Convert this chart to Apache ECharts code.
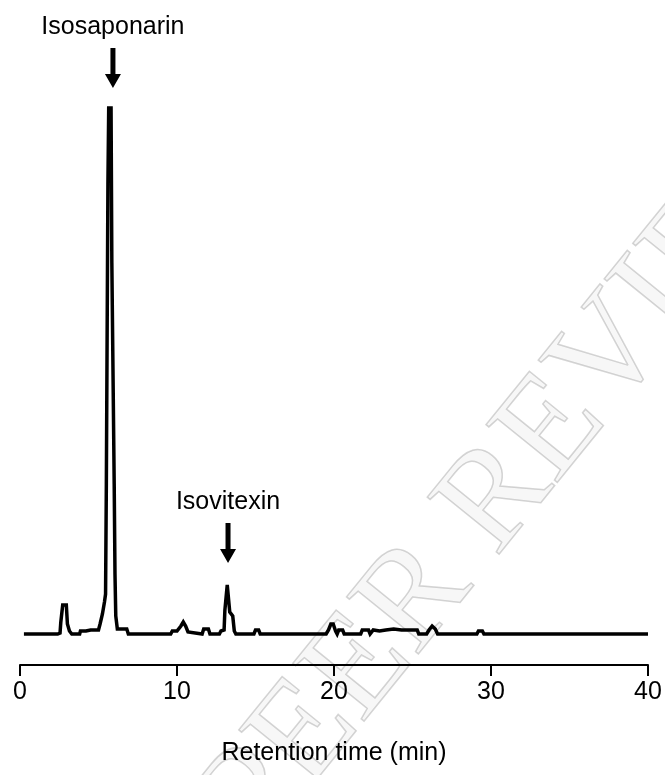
<!DOCTYPE html>
<html>
<head>
<meta charset="utf-8">
<script src="https://cdn.jsdelivr.net/npm/echarts@6/dist/echarts.min.js"></script>
<style>
  html, body { margin: 0; padding: 0; background: #fff; }
  #chart { width: 665px; height: 775px; }
</style>
</head>
<body>
<div id="chart"></div>
<script>
// retention time (min) / detector response (arbitrary units)
const retentionTime = [
  0.25, 2.4, 2.55, 2.6, 2.72, 2.95, 3.02, 3.15, 3.3,
  3.8, 3.85, 4.2, 4.3, 4.5, 5.0,
  5.1, 5.25, 5.38, 5.45, 5.5, 5.6, 5.65, 5.8, 5.85, 6.0, 6.05, 6.1, 6.2, 6.8, 6.9,
  9.6, 9.7, 10.0, 10.25, 10.4, 10.55, 10.7, 10.8,
  11.6, 11.7, 12.0, 12.1,
  12.7, 12.8, 13.0, 13.05, 13.15, 13.2, 13.3, 13.36, 13.55, 13.65, 13.75,
  14.9, 15.0, 15.2, 15.3,
  19.5, 19.65, 19.8, 19.95, 20.1, 20.2, 20.3, 20.55, 20.65,
  21.7, 21.8, 22.2, 22.3,
  22.4, 22.5, 22.9, 23.3, 23.8, 24.3, 24.8, 25.3, 25.4,
  25.9, 26.05, 26.25, 26.45, 26.6,
  29.1, 29.2, 29.45, 29.55,
  38.35, 38.4, 38.5, 40
];
const response = [
  0, 0, 1, 12, 29, 29, 10, 3, 0,
  0, 3, 3, 1, 4, 4,
  10, 20, 32, 40, 150, 450, 526, 526, 371, 150, 60, 18, 5, 5, 0,
  0, 3, 3, 8, 12, 8, 2, 0,
  0, 5, 5, 0,
  0, 3, 4, 24, 26, 49, 49, 22, 18, 3, 0,
  0, 4, 4, 0,
  0, 4, 10, 10, 3, 0, 4, 4, 0,
  0, 4, 4, 0,
  0, 4, 3, 4, 5, 4, 4, 4, 0,
  0, 4, 8, 5, 0,
  0, 3, 3, 0,
  0, 2, 0, 0
];

// peak annotations: name, retention time, arrow middle (same units as response)
const peakNames = ["Isosaponarin", "Isovitexin"];
const peakTimes = [5.92, 13.25];
const arrowMid = [566, 91];

const xTicks = { min: 0, max: 40, interval: 10 };

// down arrow: shaft + solid head
const arrowPath = "path://M5.5,0 L10.5,0 L10.5,26 L16,26 L8,40 L0,26 L5.5,26 Z";

const chart = echarts.init(document.getElementById("chart"));

const traceData = retentionTime.map((t, i) => [t, response[i]]);

const option = {
  animation: false,
  backgroundColor: "#fff",
  textStyle: { fontFamily: "Liberation Sans, Arial, sans-serif", color: "#000" },
  grid: { left: 20, right: 17, top: 20, bottom: 110 },
  graphic: [
    {
      type: "text",
      x: 520,
      y: 470,
      rotation: 0.89,
      z: -10,
      silent: true,
      style: {
        text: "PEER REVIEW",
        font: "140px 'Liberation Serif', serif",
        align: "center",
        verticalAlign: "middle",
        fill: "rgba(0,0,0,0.03)",
        stroke: "#d6d6d6",
        lineWidth: 1.5,
      },
    },
  ],
  xAxis: {
    type: "value",
    min: xTicks.min,
    max: xTicks.max,
    interval: xTicks.interval,
    name: "Retention time (min)",
    nameLocation: "middle",
    nameGap: 76,
    nameTextStyle: { fontSize: 25, color: "#000" },
    axisLine: { onZero: false, lineStyle: { color: "#000", width: 2 } },
    axisTick: { show: true, length: 11, lineStyle: { color: "#000", width: 2 } },
    axisLabel: { fontSize: 25, color: "#000", margin: 15 },
    splitLine: { show: false },
  },
  yAxis: {
    type: "value",
    show: false,
    min: -31,
    max: 614,
    splitLine: { show: false },
  },
  series: [
    {
      type: "line",
      data: traceData,
      symbol: "none",
      lineStyle: { color: "#000", width: 3.5, join: "miter" },
      markPoint: {
        silent: true,
        symbol: arrowPath,
        symbolSize: [16, 40],
        itemStyle: { color: "#000" },
        label: {
          show: true,
          position: "top",
          distance: 8,
          fontSize: 25,
          color: "#000",
          formatter: (p) => p.name,
        },
        data: peakNames.map((n, i) => ({
          name: n,
          coord: [peakTimes[i], arrowMid[i]],
        })),
      },
    },
  ],
};

chart.setOption(option);
</script>
</body>
</html>
